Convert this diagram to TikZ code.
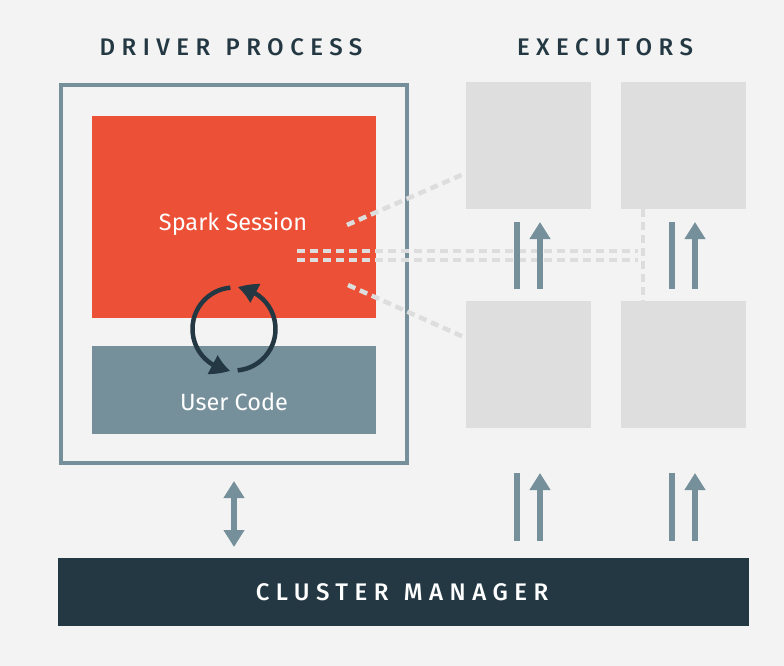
\documentclass[tikz,border=0pt]{standalone}
\usepackage{fontspec}
\setmainfont{Fira Sans}
\newfontfamily\headfont{Fira Sans Medium}[LetterSpace=27]
\usetikzlibrary{arrows.meta,bending}

\definecolor{bgc}{HTML}{F3F3F3}
\definecolor{slate}{HTML}{76909B}
\definecolor{sparkred}{HTML}{EC5137}
\definecolor{execgray}{HTML}{DEDEDE}
\definecolor{darkc}{HTML}{233842}
\definecolor{dashc}{HTML}{DDDDDD}

\tikzset{
  box/.style={rectangle, inner sep=0pt, outer sep=0pt},
  execbox/.style={box, fill=execgray, minimum width=125pt, minimum height=127pt},
  title/.style={font=\fontsize{24}{24}\headfont, text=darkc},
  inner label/.style={font=\fontsize{23.5}{24}\selectfont, text=white},
  link/.style={draw=dashc, line width=4.5pt, dash pattern=on 8pt off 5pt},
  pairbar/.style={draw=slate, line width=6pt},
  pairarrow/.style={draw=slate, line width=6pt, -{Triangle[width=20pt,length=17pt]}},
  bothway/.style={draw=slate, line width=6pt, {Triangle[width=20pt,length=17pt]}-{Triangle[width=20pt,length=17pt]}},
  cycle arrow/.style={draw=darkc, line width=4.5pt, -{Triangle[width=20pt,length=19pt,bend]}},
}

\begin{document}
\begin{tikzpicture}[x=1pt,y=-1pt]
  \fill[bgc] (0,0) rectangle (784,666);
  \useasboundingbox (0,0) rectangle (784,666);

  % headings
  \node[title] (drivertitle) at (231,47) {DRIVER\hspace{3pt} PROCESS};
  \node[title] (exectitle) at (605,47) {EXECUTORS};

  % driver process
  \node[box, draw=slate, line width=4pt, outer sep=2pt, minimum width=346pt, minimum height=378pt] (driver) at (234,274) {};
  \node[box, fill=sparkred, minimum width=284pt, minimum height=202pt] (spark) at (234,217) {};
  \node[box, fill=slate, minimum width=284pt, minimum height=88pt] (user) at (234,390) {};
  \node[inner label] (sparklabel) at (233,224) {Spark Session};
  \node[inner label] (userlabel) at (234,402) {User Code};

  % executors
  \node[execbox] (e1) at (528.5,145.5) {};
  \node[execbox] (e2) at (683.5,145.5) {};
  \node[execbox] (e3) at (528.5,364.5) {};
  \node[execbox] (e4) at (683.5,364.5) {};

  % cluster manager
  \node[box, fill=darkc, minimum width=691pt, minimum height=68pt,
        font=\fontsize{24}{24}\headfont, text=white] (cluster) at (403.5,592) {\hspace{-3pt}CLUSTER\hspace{3pt} MANAGER};

  % session links to the executors
  \coordinate (s1) at (347,225);
  \coordinate (s2) at (297,251);
  \coordinate (s3) at (297,260);
  \coordinate (s4) at (348,285);
  \coordinate (t1) at (466,173);
  \coordinate (t2) at (638,251);
  \coordinate (t3) at (638,260);
  \coordinate (t4) at (466,338);
  \coordinate (v1) at (643,209);
  \coordinate (v2) at (643,301);
  \draw[link] (s1) -- (t1);
  \draw[link] (s2) -- (t2);
  \draw[link] (s3) -- (t3);
  \draw[link] (s4) -- (t4);
  \draw[link] (v1) -- (v2);

  % executor to executor
  \draw[pairbar, shorten <=12pt, shorten >=13pt] ([xshift=-11.5pt]e3.north) -- ([xshift=-11.5pt]e1.south);
  \draw[pairarrow, shorten <=12pt, shorten >=13pt] ([xshift=11.5pt]e3.north) -- ([xshift=11.5pt]e1.south);
  \draw[pairbar, shorten <=12pt, shorten >=13pt] ([xshift=-11.5pt]e4.north) -- ([xshift=-11.5pt]e2.south);
  \draw[pairarrow, shorten <=12pt, shorten >=13pt] ([xshift=11.5pt]e4.north) -- ([xshift=11.5pt]e2.south);

  % cluster manager to executors
  \draw[pairbar, shorten <=17pt, shorten >=45pt] (cluster.north -| e3.south) ++(-11.5,0) coordinate (b1) (b1) -- (b1 |- e3.south);
  \draw[pairarrow, shorten <=17pt, shorten >=45pt] (cluster.north -| e3.south) ++(11.5,0) coordinate (b2) (b2) -- (b2 |- e3.south);
  \draw[pairbar, shorten <=17pt, shorten >=45pt] (cluster.north -| e4.south) ++(-11.5,0) coordinate (b3) (b3) -- (b3 |- e4.south);
  \draw[pairarrow, shorten <=17pt, shorten >=45pt] (cluster.north -| e4.south) ++(11.5,0) coordinate (b4) (b4) -- (b4 |- e4.south);

  % driver to cluster manager
  \draw[bothway, shorten <=16pt, shorten >=11pt] (driver.south) -- (driver.south |- cluster.north);

  % the loop between session and user code (y axis points down, so angles are mirrored)
  \coordinate (loop) at (234,329);
  \draw[cycle arrow] (loop) ++(-95:41.5) arc[start angle=-95, end angle=-265, radius=41.5];
  \draw[cycle arrow] (loop) ++(-275:41.5) arc[start angle=-275, end angle=-445, radius=41.5];
\end{tikzpicture}
\end{document}
